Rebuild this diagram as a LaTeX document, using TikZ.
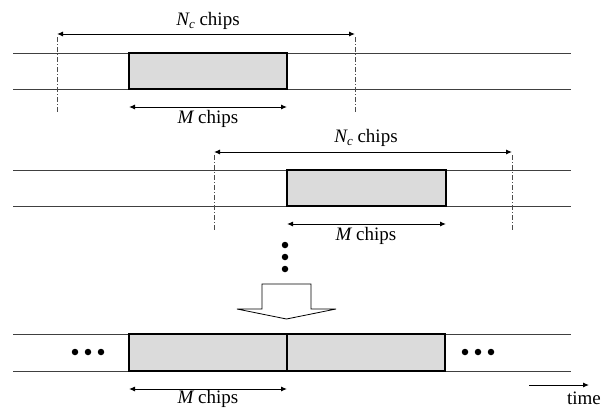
\documentclass[tikz,border=0pt]{standalone}
\usepackage{fontspec}
\setmainfont{Liberation Serif}
\usetikzlibrary{arrows.meta}
\newcommand{\Nclab}{{\itshape N}\raisebox{-0.35ex}{\fontsize{13}{13}\selectfont\itshape c} chips}
\newcommand{\Mlab}{{\itshape M} chips}
\begin{document}
\begin{tikzpicture}[x=1pt,y=-1pt,
  track/.style={line width=0.9pt, black!75},
  chipbox/.style={draw, line width=1.4pt, fill=gray!28},
  dim/.style={line width=1pt, {Latex[length=6pt,width=5pt]}-{Latex[length=6pt,width=5pt]}},
  guide/.style={line width=0.7pt, black!70, dash pattern=on 5pt off 2pt on 1pt off 2pt},
  lbl/.style={font=\fontsize{19}{22}\selectfont, inner sep=0pt},
  dot/.style={circle, fill, inner sep=0pt, minimum size=6.5pt}]
\useasboundingbox (0,0) rectangle (613,408);
% ---------- row 1 ----------
\coordinate (a1) at (13,53);  \coordinate (a2) at (571,53);
\coordinate (a3) at (13,89);  \coordinate (a4) at (571,89);
\draw[track] (a1) -- (a2);
\draw[track] (a3) -- (a4);
\draw[chipbox] (129,53) rectangle (287,89);
\coordinate (g1t) at (57,37);  \coordinate (g1b) at (57,113);
\coordinate (g2t) at (355,37); \coordinate (g2b) at (355,113);
\draw[guide] (g1t) -- (g1b);
\draw[guide] (g2t) -- (g2b);
\coordinate (n1l) at (57,34); \coordinate (n1r) at (355,34);
\draw[dim] (n1l) -- (n1r);
\node[lbl] (n1lab) at (208,21) {\Nclab};
\coordinate (m1l) at (129,107); \coordinate (m1r) at (287,107);
\draw[dim] (m1l) -- (m1r);
\node[lbl] (m1lab) at (208,119) {\Mlab};
% ---------- row 2 ----------
\coordinate (b1) at (13,170);  \coordinate (b2) at (571,170);
\coordinate (b3) at (13,206);  \coordinate (b4) at (571,206);
\draw[track] (b1) -- (b2);
\draw[track] (b3) -- (b4);
\draw[chipbox] (287,170) rectangle (446,206);
\coordinate (h1t) at (214,155); \coordinate (h1b) at (214,231);
\coordinate (h2t) at (512,155); \coordinate (h2b) at (512,231);
\draw[guide] (h1t) -- (h1b);
\draw[guide] (h2t) -- (h2b);
\coordinate (n2l) at (214,152); \coordinate (n2r) at (512,152);
\draw[dim] (n2l) -- (n2r);
\node[lbl] (n2lab) at (366,138) {\Nclab};
\coordinate (m2l) at (287,224); \coordinate (m2r) at (446,224);
\draw[dim] (m2l) -- (m2r);
\node[lbl] (m2lab) at (366,236) {\Mlab};
% ---------- vertical dots and block arrow ----------
\node[dot] (v1) at (285,245) {};
\node[dot] (v2) at (285,257) {};
\node[dot] (v3) at (285,269) {};
\draw[line width=0.8pt, fill=white] (262,284) -- (311,284) -- (311,309) -- (336,309)
  -- (286.5,319) -- (237,309) -- (262,309) -- cycle;
% ---------- row 3 ----------
\coordinate (c1) at (13,334);  \coordinate (c2) at (571,334);
\coordinate (c3) at (13,371);  \coordinate (c4) at (571,371);
\draw[track] (c1) -- (c2);
\draw[track] (c3) -- (c4);
\draw[chipbox] (129,334) rectangle (287,371);
\draw[chipbox] (287,334) rectangle (445,371);
\node[dot] (l1) at (75,352) {};
\node[dot] (l2) at (88,352) {};
\node[dot] (l3) at (101,352) {};
\node[dot] (r1) at (465,352) {};
\node[dot] (r2) at (478,352) {};
\node[dot] (r3) at (491,352) {};
\coordinate (m3l) at (129,389); \coordinate (m3r) at (287,389);
\draw[dim] (m3l) -- (m3r);
\node[lbl] (m3lab) at (208,399) {\Mlab};
\coordinate (t1) at (529,385); \coordinate (t2) at (589,385);
\draw[line width=1pt, -{Latex[length=6pt,width=5pt]}] (t1) -- (t2);
\node[lbl] (tlab) at (584,398) {time};
\end{tikzpicture}
\end{document}
